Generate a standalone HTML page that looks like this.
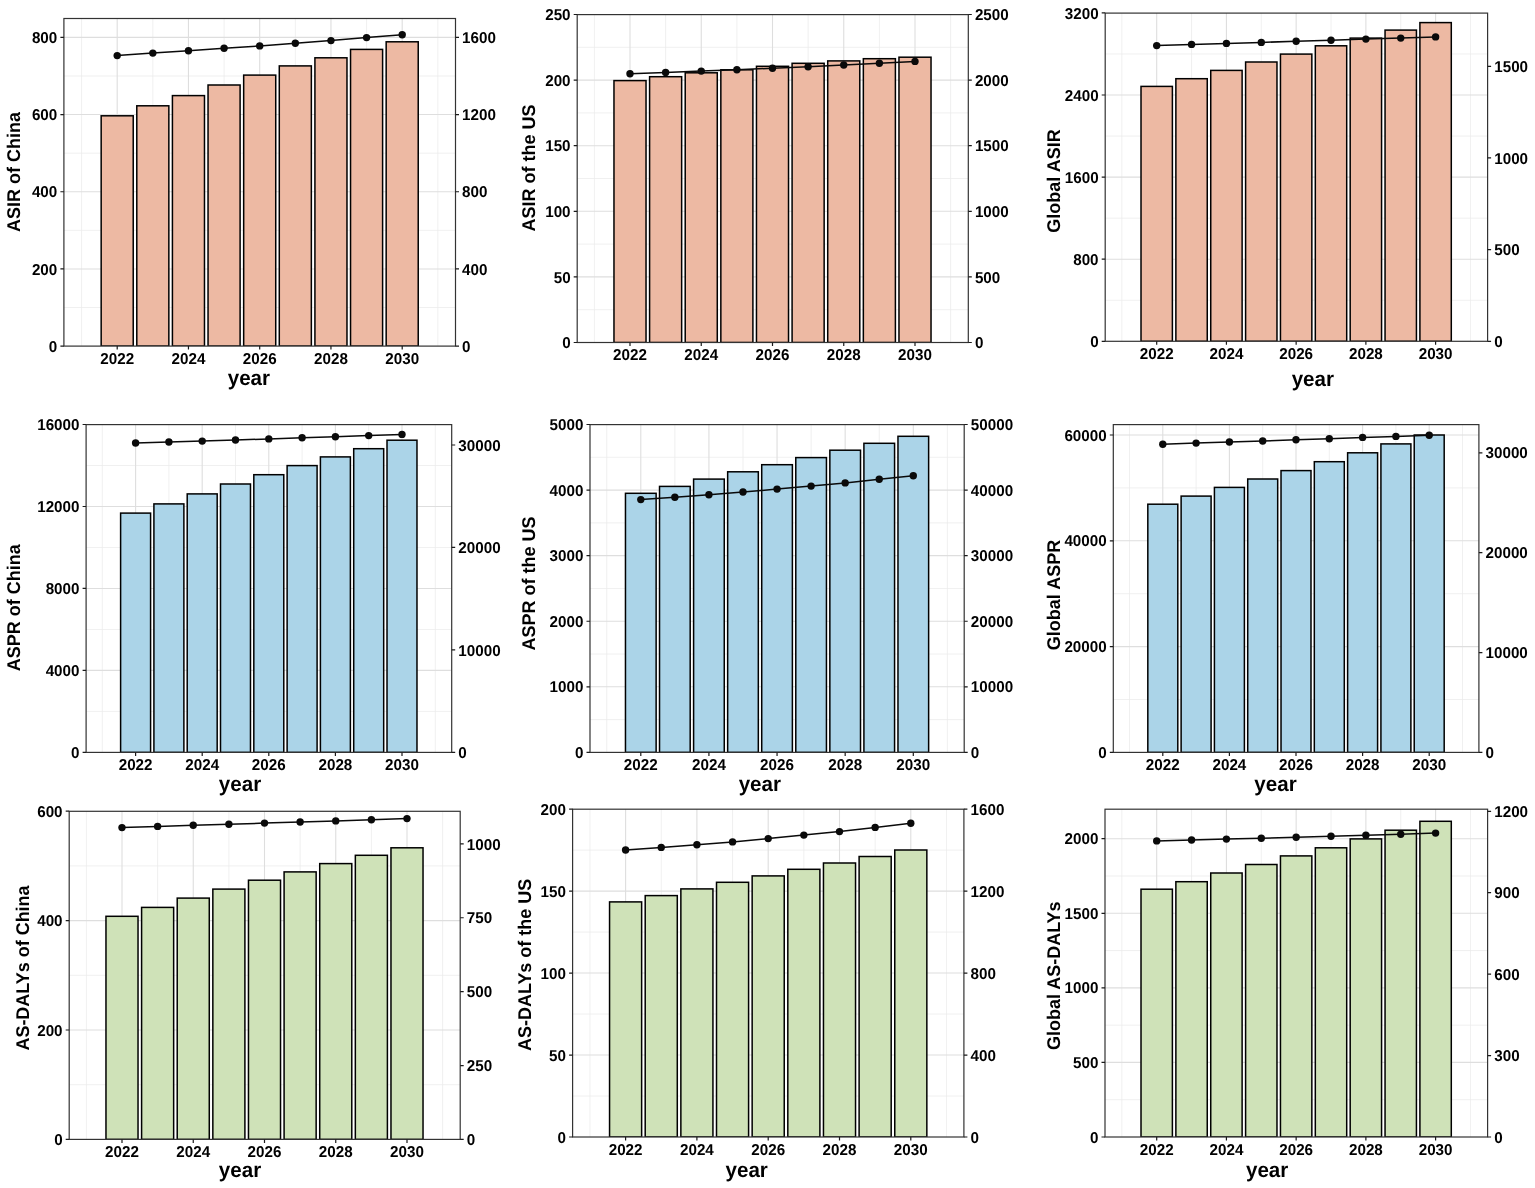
<!DOCTYPE html>
<html lang="en"><head><meta charset="utf-8"><title>ASIR, ASPR and AS-DALYs projections 2022-2030</title>
<style>html,body{margin:0;padding:0;background:#fff;}body{width:1535px;height:1188px;overflow:hidden;}svg{display:block;}text{font-family:"Liberation Sans", sans-serif;font-weight:bold;fill:#000;text-rendering:geometricPrecision;}.tk{font-size:15.7px;}.yl{font-size:18.4px;}.xl{font-size:21.1px;}</style></head><body>
<svg width="1535" height="1188" viewBox="0 0 1535 1188">
<rect width="1535" height="1188" fill="#fff"/>
<g>
<rect x="63.9" y="18.5" width="391.6" height="327.6" fill="#fff"/>
<path d="M81.58 18.5V346.1M152.82 18.5V346.1M224.07 18.5V346.1M295.32 18.5V346.1M366.57 18.5V346.1M437.82 18.5V346.1M63.9 307.51H455.5M63.9 230.34H455.5M63.9 153.16H455.5M63.9 75.99H455.5" stroke="#ebebeb" stroke-width="0.75" fill="none"/>
<path d="M117.2 18.5V346.1M188.45 18.5V346.1M259.7 18.5V346.1M330.95 18.5V346.1M402.2 18.5V346.1M63.9 268.93H455.5M63.9 191.75H455.5M63.9 114.57H455.5M63.9 37.4H455.5" stroke="#dedede" stroke-width="1.1" fill="none"/>
<clipPath id="c8"><rect x="63.9" y="18.5" width="391.6" height="327.6"/></clipPath>
<g clip-path="url(#c8)">
<rect x="101.17" y="115.8" width="32.06" height="230.3" fill="#EDB9A3" stroke="#000" stroke-width="1.5"/>
<rect x="136.79" y="105.8" width="32.06" height="240.3" fill="#EDB9A3" stroke="#000" stroke-width="1.5"/>
<rect x="172.42" y="95.6" width="32.06" height="250.5" fill="#EDB9A3" stroke="#000" stroke-width="1.5"/>
<rect x="208.04" y="85" width="32.06" height="261.1" fill="#EDB9A3" stroke="#000" stroke-width="1.5"/>
<rect x="243.67" y="75.1" width="32.06" height="271" fill="#EDB9A3" stroke="#000" stroke-width="1.5"/>
<rect x="279.29" y="65.9" width="32.06" height="280.2" fill="#EDB9A3" stroke="#000" stroke-width="1.5"/>
<rect x="314.92" y="57.8" width="32.06" height="288.3" fill="#EDB9A3" stroke="#000" stroke-width="1.5"/>
<rect x="350.54" y="49.4" width="32.06" height="296.7" fill="#EDB9A3" stroke="#000" stroke-width="1.5"/>
<rect x="386.17" y="41.8" width="32.06" height="304.3" fill="#EDB9A3" stroke="#000" stroke-width="1.5"/>
<polyline points="117.2,55.6 152.82,53.1 188.45,50.7 224.07,48.3 259.7,45.9 295.32,43.3 330.95,40.6 366.57,37.6 402.2,34.8" fill="none" stroke="#0a0a0a" stroke-width="1.5"/>
<circle cx="117.2" cy="55.6" r="3.7" fill="#0a0a0a"/>
<circle cx="152.82" cy="53.1" r="3.7" fill="#0a0a0a"/>
<circle cx="188.45" cy="50.7" r="3.7" fill="#0a0a0a"/>
<circle cx="224.07" cy="48.3" r="3.7" fill="#0a0a0a"/>
<circle cx="259.7" cy="45.9" r="3.7" fill="#0a0a0a"/>
<circle cx="295.32" cy="43.3" r="3.7" fill="#0a0a0a"/>
<circle cx="330.95" cy="40.6" r="3.7" fill="#0a0a0a"/>
<circle cx="366.57" cy="37.6" r="3.7" fill="#0a0a0a"/>
<circle cx="402.2" cy="34.8" r="3.7" fill="#0a0a0a"/>
</g>
<rect x="63.9" y="18.5" width="391.6" height="327.6" fill="none" stroke="#333" stroke-width="1.2"/>
<path d="M60.4 346.1H63.9M60.4 268.93H63.9M60.4 191.75H63.9M60.4 114.57H63.9M60.4 37.4H63.9M455.5 346.1H459M455.5 268.93H459M455.5 191.75H459M455.5 114.57H459M455.5 37.4H459M117.2 346.1V349.6M188.45 346.1V349.6M259.7 346.1V349.6M330.95 346.1V349.6M402.2 346.1V349.6" stroke="#1a1a1a" stroke-width="1.2" fill="none"/>
<text class="tk" transform="translate(57.3 351.7) scale(0.97 1)" text-anchor="end">0</text>
<text class="tk" transform="translate(57.3 274.53) scale(0.97 1)" text-anchor="end">200</text>
<text class="tk" transform="translate(57.3 197.35) scale(0.97 1)" text-anchor="end">400</text>
<text class="tk" transform="translate(57.3 120.17) scale(0.97 1)" text-anchor="end">600</text>
<text class="tk" transform="translate(57.3 43) scale(0.97 1)" text-anchor="end">800</text>
<text class="tk" transform="translate(462.1 351.7) scale(0.97 1)">0</text>
<text class="tk" transform="translate(462.1 274.53) scale(0.97 1)">400</text>
<text class="tk" transform="translate(462.1 197.35) scale(0.97 1)">800</text>
<text class="tk" transform="translate(462.1 120.17) scale(0.97 1)">1200</text>
<text class="tk" transform="translate(462.1 43) scale(0.97 1)">1600</text>
<text class="tk" transform="translate(117.2 363.9) scale(0.97 1)" text-anchor="middle">2022</text>
<text class="tk" transform="translate(188.45 363.9) scale(0.97 1)" text-anchor="middle">2024</text>
<text class="tk" transform="translate(259.7 363.9) scale(0.97 1)" text-anchor="middle">2026</text>
<text class="tk" transform="translate(330.95 363.9) scale(0.97 1)" text-anchor="middle">2028</text>
<text class="tk" transform="translate(402.2 363.9) scale(0.97 1)" text-anchor="middle">2030</text>
<text class="xl" transform="translate(248.9 385.4) scale(0.975 1)" text-anchor="middle">year</text>
<text class="yl" text-anchor="middle" transform="translate(19.7 172) rotate(-90) scale(0.978 1)">ASIR of China</text>
</g>
<g>
<rect x="577.2" y="14.6" width="391.1" height="327.9" fill="#fff"/>
<path d="M594.38 14.6V342.5M665.62 14.6V342.5M736.88 14.6V342.5M808.12 14.6V342.5M879.38 14.6V342.5M950.62 14.6V342.5M577.2 309.7H968.3M577.2 244.1H968.3M577.2 178.5H968.3M577.2 112.9H968.3M577.2 47.3H968.3" stroke="#ebebeb" stroke-width="0.75" fill="none"/>
<path d="M630 14.6V342.5M701.25 14.6V342.5M772.5 14.6V342.5M843.75 14.6V342.5M915 14.6V342.5M577.2 276.9H968.3M577.2 211.3H968.3M577.2 145.7H968.3M577.2 80.1H968.3" stroke="#dedede" stroke-width="1.1" fill="none"/>
<clipPath id="c54"><rect x="577.2" y="14.6" width="391.1" height="327.9"/></clipPath>
<g clip-path="url(#c54)">
<rect x="613.97" y="80.6" width="32.06" height="261.9" fill="#EDB9A3" stroke="#000" stroke-width="1.5"/>
<rect x="649.59" y="76.7" width="32.06" height="265.8" fill="#EDB9A3" stroke="#000" stroke-width="1.5"/>
<rect x="685.22" y="72.8" width="32.06" height="269.7" fill="#EDB9A3" stroke="#000" stroke-width="1.5"/>
<rect x="720.84" y="69.8" width="32.06" height="272.7" fill="#EDB9A3" stroke="#000" stroke-width="1.5"/>
<rect x="756.47" y="66.3" width="32.06" height="276.2" fill="#EDB9A3" stroke="#000" stroke-width="1.5"/>
<rect x="792.09" y="63.3" width="32.06" height="279.2" fill="#EDB9A3" stroke="#000" stroke-width="1.5"/>
<rect x="827.72" y="60.9" width="32.06" height="281.6" fill="#EDB9A3" stroke="#000" stroke-width="1.5"/>
<rect x="863.34" y="58.7" width="32.06" height="283.8" fill="#EDB9A3" stroke="#000" stroke-width="1.5"/>
<rect x="898.97" y="57.2" width="32.06" height="285.3" fill="#EDB9A3" stroke="#000" stroke-width="1.5"/>
<polyline points="630,73.7 665.62,72.4 701.25,71.1 736.88,69.8 772.5,68.2 808.12,66.7 843.75,65 879.38,63.3 915,61.4" fill="none" stroke="#0a0a0a" stroke-width="1.5"/>
<circle cx="630" cy="73.7" r="3.7" fill="#0a0a0a"/>
<circle cx="665.62" cy="72.4" r="3.7" fill="#0a0a0a"/>
<circle cx="701.25" cy="71.1" r="3.7" fill="#0a0a0a"/>
<circle cx="736.88" cy="69.8" r="3.7" fill="#0a0a0a"/>
<circle cx="772.5" cy="68.2" r="3.7" fill="#0a0a0a"/>
<circle cx="808.12" cy="66.7" r="3.7" fill="#0a0a0a"/>
<circle cx="843.75" cy="65" r="3.7" fill="#0a0a0a"/>
<circle cx="879.38" cy="63.3" r="3.7" fill="#0a0a0a"/>
<circle cx="915" cy="61.4" r="3.7" fill="#0a0a0a"/>
</g>
<rect x="577.2" y="14.6" width="391.1" height="327.9" fill="none" stroke="#333" stroke-width="1.2"/>
<path d="M573.7 342.5H577.2M573.7 276.9H577.2M573.7 211.3H577.2M573.7 145.7H577.2M573.7 80.1H577.2M573.7 14.5H577.2M968.3 342.5H971.8M968.3 276.9H971.8M968.3 211.3H971.8M968.3 145.7H971.8M968.3 80.1H971.8M968.3 14.5H971.8M630 342.5V346M701.25 342.5V346M772.5 342.5V346M843.75 342.5V346M915 342.5V346" stroke="#1a1a1a" stroke-width="1.2" fill="none"/>
<text class="tk" transform="translate(570.6 348.1) scale(0.97 1)" text-anchor="end">0</text>
<text class="tk" transform="translate(570.6 282.5) scale(0.97 1)" text-anchor="end">50</text>
<text class="tk" transform="translate(570.6 216.9) scale(0.97 1)" text-anchor="end">100</text>
<text class="tk" transform="translate(570.6 151.3) scale(0.97 1)" text-anchor="end">150</text>
<text class="tk" transform="translate(570.6 85.7) scale(0.97 1)" text-anchor="end">200</text>
<text class="tk" transform="translate(570.6 20.1) scale(0.97 1)" text-anchor="end">250</text>
<text class="tk" transform="translate(974.9 348.1) scale(0.97 1)">0</text>
<text class="tk" transform="translate(974.9 282.5) scale(0.97 1)">500</text>
<text class="tk" transform="translate(974.9 216.9) scale(0.97 1)">1000</text>
<text class="tk" transform="translate(974.9 151.3) scale(0.97 1)">1500</text>
<text class="tk" transform="translate(974.9 85.7) scale(0.97 1)">2000</text>
<text class="tk" transform="translate(974.9 20.1) scale(0.97 1)">2500</text>
<text class="tk" transform="translate(630 360.3) scale(0.97 1)" text-anchor="middle">2022</text>
<text class="tk" transform="translate(701.25 360.3) scale(0.97 1)" text-anchor="middle">2024</text>
<text class="tk" transform="translate(772.5 360.3) scale(0.97 1)" text-anchor="middle">2026</text>
<text class="tk" transform="translate(843.75 360.3) scale(0.97 1)" text-anchor="middle">2028</text>
<text class="tk" transform="translate(915 360.3) scale(0.97 1)" text-anchor="middle">2030</text>
<text class="yl" text-anchor="middle" transform="translate(534.7 168) rotate(-90) scale(0.978 1)">ASIR of the US</text>
</g>
<g>
<rect x="1105.2" y="13.1" width="382.4" height="328.2" fill="#fff"/>
<path d="M1121.84 13.1V341.3M1191.56 13.1V341.3M1261.29 13.1V341.3M1331.01 13.1V341.3M1400.74 13.1V341.3M1470.46 13.1V341.3M1105.2 300.25H1487.6M1105.2 218.15H1487.6M1105.2 136.05H1487.6M1105.2 53.95H1487.6" stroke="#ebebeb" stroke-width="0.75" fill="none"/>
<path d="M1156.7 13.1V341.3M1226.42 13.1V341.3M1296.15 13.1V341.3M1365.88 13.1V341.3M1435.6 13.1V341.3M1105.2 259.2H1487.6M1105.2 177.1H1487.6M1105.2 95H1487.6" stroke="#dedede" stroke-width="1.1" fill="none"/>
<clipPath id="c101"><rect x="1105.2" y="13.1" width="382.4" height="328.2"/></clipPath>
<g clip-path="url(#c101)">
<rect x="1141.01" y="86.4" width="31.38" height="254.9" fill="#EDB9A3" stroke="#000" stroke-width="1.5"/>
<rect x="1175.87" y="78.7" width="31.38" height="262.6" fill="#EDB9A3" stroke="#000" stroke-width="1.5"/>
<rect x="1210.74" y="70.4" width="31.38" height="270.9" fill="#EDB9A3" stroke="#000" stroke-width="1.5"/>
<rect x="1245.6" y="62" width="31.38" height="279.3" fill="#EDB9A3" stroke="#000" stroke-width="1.5"/>
<rect x="1280.46" y="54.1" width="31.38" height="287.2" fill="#EDB9A3" stroke="#000" stroke-width="1.5"/>
<rect x="1315.32" y="45.8" width="31.38" height="295.5" fill="#EDB9A3" stroke="#000" stroke-width="1.5"/>
<rect x="1350.19" y="38.1" width="31.38" height="303.2" fill="#EDB9A3" stroke="#000" stroke-width="1.5"/>
<rect x="1385.05" y="30.1" width="31.38" height="311.2" fill="#EDB9A3" stroke="#000" stroke-width="1.5"/>
<rect x="1419.91" y="22.6" width="31.38" height="318.7" fill="#EDB9A3" stroke="#000" stroke-width="1.5"/>
<polyline points="1156.7,45.6 1191.56,44.4 1226.42,43.4 1261.29,42.4 1296.15,41.3 1331.01,40.2 1365.88,39.1 1400.74,38.1 1435.6,36.9" fill="none" stroke="#0a0a0a" stroke-width="1.5"/>
<circle cx="1156.7" cy="45.6" r="3.7" fill="#0a0a0a"/>
<circle cx="1191.56" cy="44.4" r="3.7" fill="#0a0a0a"/>
<circle cx="1226.42" cy="43.4" r="3.7" fill="#0a0a0a"/>
<circle cx="1261.29" cy="42.4" r="3.7" fill="#0a0a0a"/>
<circle cx="1296.15" cy="41.3" r="3.7" fill="#0a0a0a"/>
<circle cx="1331.01" cy="40.2" r="3.7" fill="#0a0a0a"/>
<circle cx="1365.88" cy="39.1" r="3.7" fill="#0a0a0a"/>
<circle cx="1400.74" cy="38.1" r="3.7" fill="#0a0a0a"/>
<circle cx="1435.6" cy="36.9" r="3.7" fill="#0a0a0a"/>
</g>
<rect x="1105.2" y="13.1" width="382.4" height="328.2" fill="none" stroke="#333" stroke-width="1.2"/>
<path d="M1101.7 341.3H1105.2M1101.7 259.2H1105.2M1101.7 177.1H1105.2M1101.7 95H1105.2M1101.7 12.9H1105.2M1487.6 341.3H1491.1M1487.6 249.63H1491.1M1487.6 157.97H1491.1M1487.6 66.3H1491.1M1156.7 341.3V344.8M1226.42 341.3V344.8M1296.15 341.3V344.8M1365.88 341.3V344.8M1435.6 341.3V344.8" stroke="#1a1a1a" stroke-width="1.2" fill="none"/>
<text class="tk" transform="translate(1098.6 346.9) scale(0.97 1)" text-anchor="end">0</text>
<text class="tk" transform="translate(1098.6 264.8) scale(0.97 1)" text-anchor="end">800</text>
<text class="tk" transform="translate(1098.6 182.7) scale(0.97 1)" text-anchor="end">1600</text>
<text class="tk" transform="translate(1098.6 100.6) scale(0.97 1)" text-anchor="end">2400</text>
<text class="tk" transform="translate(1098.6 18.5) scale(0.97 1)" text-anchor="end">3200</text>
<text class="tk" transform="translate(1494.2 346.9) scale(0.97 1)">0</text>
<text class="tk" transform="translate(1494.2 255.23) scale(0.97 1)">500</text>
<text class="tk" transform="translate(1494.2 163.57) scale(0.97 1)">1000</text>
<text class="tk" transform="translate(1494.2 71.9) scale(0.97 1)">1500</text>
<text class="tk" transform="translate(1156.7 359.1) scale(0.97 1)" text-anchor="middle">2022</text>
<text class="tk" transform="translate(1226.42 359.1) scale(0.97 1)" text-anchor="middle">2024</text>
<text class="tk" transform="translate(1296.15 359.1) scale(0.97 1)" text-anchor="middle">2026</text>
<text class="tk" transform="translate(1365.88 359.1) scale(0.97 1)" text-anchor="middle">2028</text>
<text class="tk" transform="translate(1435.6 359.1) scale(0.97 1)" text-anchor="middle">2030</text>
<text class="xl" transform="translate(1312.8 385.8) scale(0.975 1)" text-anchor="middle">year</text>
<text class="yl" text-anchor="middle" transform="translate(1059.7 181) rotate(-90) scale(0.978 1)">Global ASIR</text>
</g>
<g>
<rect x="86.1" y="424.6" width="365.6" height="327.8" fill="#fff"/>
<path d="M102.3 424.6V752.4M168.9 424.6V752.4M235.5 424.6V752.4M302.1 424.6V752.4M368.7 424.6V752.4M435.3 424.6V752.4M86.1 711.41H451.7M86.1 629.44H451.7M86.1 547.46H451.7M86.1 465.49H451.7" stroke="#ebebeb" stroke-width="0.75" fill="none"/>
<path d="M135.6 424.6V752.4M202.2 424.6V752.4M268.8 424.6V752.4M335.4 424.6V752.4M402 424.6V752.4M86.1 670.42H451.7M86.1 588.45H451.7M86.1 506.48H451.7" stroke="#dedede" stroke-width="1.1" fill="none"/>
<clipPath id="c146"><rect x="86.1" y="424.6" width="365.6" height="327.8"/></clipPath>
<g clip-path="url(#c146)">
<rect x="120.61" y="513.1" width="29.97" height="239.3" fill="#ABD4E8" stroke="#000" stroke-width="1.5"/>
<rect x="153.91" y="503.9" width="29.97" height="248.5" fill="#ABD4E8" stroke="#000" stroke-width="1.5"/>
<rect x="187.21" y="493.9" width="29.97" height="258.5" fill="#ABD4E8" stroke="#000" stroke-width="1.5"/>
<rect x="220.51" y="484" width="29.97" height="268.4" fill="#ABD4E8" stroke="#000" stroke-width="1.5"/>
<rect x="253.81" y="474.7" width="29.97" height="277.7" fill="#ABD4E8" stroke="#000" stroke-width="1.5"/>
<rect x="287.12" y="465.6" width="29.97" height="286.8" fill="#ABD4E8" stroke="#000" stroke-width="1.5"/>
<rect x="320.41" y="456.9" width="29.97" height="295.5" fill="#ABD4E8" stroke="#000" stroke-width="1.5"/>
<rect x="353.71" y="448.7" width="29.97" height="303.7" fill="#ABD4E8" stroke="#000" stroke-width="1.5"/>
<rect x="387.01" y="440.2" width="29.97" height="312.2" fill="#ABD4E8" stroke="#000" stroke-width="1.5"/>
<polyline points="135.6,443 168.9,442 202.2,441.1 235.5,440 268.8,438.9 302.1,437.8 335.4,436.7 368.7,435.6 402,434.4" fill="none" stroke="#0a0a0a" stroke-width="1.5"/>
<circle cx="135.6" cy="443" r="3.7" fill="#0a0a0a"/>
<circle cx="168.9" cy="442" r="3.7" fill="#0a0a0a"/>
<circle cx="202.2" cy="441.1" r="3.7" fill="#0a0a0a"/>
<circle cx="235.5" cy="440" r="3.7" fill="#0a0a0a"/>
<circle cx="268.8" cy="438.9" r="3.7" fill="#0a0a0a"/>
<circle cx="302.1" cy="437.8" r="3.7" fill="#0a0a0a"/>
<circle cx="335.4" cy="436.7" r="3.7" fill="#0a0a0a"/>
<circle cx="368.7" cy="435.6" r="3.7" fill="#0a0a0a"/>
<circle cx="402" cy="434.4" r="3.7" fill="#0a0a0a"/>
</g>
<rect x="86.1" y="424.6" width="365.6" height="327.8" fill="none" stroke="#333" stroke-width="1.2"/>
<path d="M82.6 752.4H86.1M82.6 670.42H86.1M82.6 588.45H86.1M82.6 506.48H86.1M82.6 424.5H86.1M451.7 752.4H455.2M451.7 649.93H455.2M451.7 547.47H455.2M451.7 445H455.2M135.6 752.4V755.9M202.2 752.4V755.9M268.8 752.4V755.9M335.4 752.4V755.9M402 752.4V755.9" stroke="#1a1a1a" stroke-width="1.2" fill="none"/>
<text class="tk" transform="translate(79.5 758) scale(0.97 1)" text-anchor="end">0</text>
<text class="tk" transform="translate(79.5 676.02) scale(0.97 1)" text-anchor="end">4000</text>
<text class="tk" transform="translate(79.5 594.05) scale(0.97 1)" text-anchor="end">8000</text>
<text class="tk" transform="translate(79.5 512.08) scale(0.97 1)" text-anchor="end">12000</text>
<text class="tk" transform="translate(79.5 430.1) scale(0.97 1)" text-anchor="end">16000</text>
<text class="tk" transform="translate(458.3 758) scale(0.97 1)">0</text>
<text class="tk" transform="translate(458.3 655.53) scale(0.97 1)">10000</text>
<text class="tk" transform="translate(458.3 553.07) scale(0.97 1)">20000</text>
<text class="tk" transform="translate(458.3 450.6) scale(0.97 1)">30000</text>
<text class="tk" transform="translate(135.6 770.2) scale(0.97 1)" text-anchor="middle">2022</text>
<text class="tk" transform="translate(202.2 770.2) scale(0.97 1)" text-anchor="middle">2024</text>
<text class="tk" transform="translate(268.8 770.2) scale(0.97 1)" text-anchor="middle">2026</text>
<text class="tk" transform="translate(335.4 770.2) scale(0.97 1)" text-anchor="middle">2028</text>
<text class="tk" transform="translate(402 770.2) scale(0.97 1)" text-anchor="middle">2030</text>
<text class="xl" transform="translate(240 790.8) scale(0.975 1)" text-anchor="middle">year</text>
<text class="yl" text-anchor="middle" transform="translate(19.7 607.7) rotate(-90) scale(0.978 1)">ASPR of China</text>
</g>
<g>
<rect x="590" y="424.6" width="374.2" height="327.8" fill="#fff"/>
<path d="M606.74 424.6V752.4M674.86 424.6V752.4M742.99 424.6V752.4M811.11 424.6V752.4M879.24 424.6V752.4M947.36 424.6V752.4M590 719.61H964.2M590 654.03H964.2M590 588.45H964.2M590 522.87H964.2M590 457.29H964.2" stroke="#ebebeb" stroke-width="0.75" fill="none"/>
<path d="M640.8 424.6V752.4M708.92 424.6V752.4M777.05 424.6V752.4M845.17 424.6V752.4M913.3 424.6V752.4M590 686.82H964.2M590 621.24H964.2M590 555.66H964.2M590 490.08H964.2" stroke="#dedede" stroke-width="1.1" fill="none"/>
<clipPath id="c191"><rect x="590" y="424.6" width="374.2" height="327.8"/></clipPath>
<g clip-path="url(#c191)">
<rect x="625.47" y="493.3" width="30.66" height="259.1" fill="#ABD4E8" stroke="#000" stroke-width="1.5"/>
<rect x="659.53" y="486.4" width="30.66" height="266" fill="#ABD4E8" stroke="#000" stroke-width="1.5"/>
<rect x="693.6" y="479.1" width="30.66" height="273.3" fill="#ABD4E8" stroke="#000" stroke-width="1.5"/>
<rect x="727.66" y="471.8" width="30.66" height="280.6" fill="#ABD4E8" stroke="#000" stroke-width="1.5"/>
<rect x="761.72" y="464.7" width="30.66" height="287.7" fill="#ABD4E8" stroke="#000" stroke-width="1.5"/>
<rect x="795.78" y="457.6" width="30.66" height="294.8" fill="#ABD4E8" stroke="#000" stroke-width="1.5"/>
<rect x="829.85" y="450.2" width="30.66" height="302.2" fill="#ABD4E8" stroke="#000" stroke-width="1.5"/>
<rect x="863.91" y="443.3" width="30.66" height="309.1" fill="#ABD4E8" stroke="#000" stroke-width="1.5"/>
<rect x="897.97" y="436.3" width="30.66" height="316.1" fill="#ABD4E8" stroke="#000" stroke-width="1.5"/>
<polyline points="640.8,499.6 674.86,497.2 708.92,494.7 742.99,492 777.05,489.1 811.11,486.1 845.17,482.9 879.24,479.3 913.3,475.8" fill="none" stroke="#0a0a0a" stroke-width="1.5"/>
<circle cx="640.8" cy="499.6" r="3.7" fill="#0a0a0a"/>
<circle cx="674.86" cy="497.2" r="3.7" fill="#0a0a0a"/>
<circle cx="708.92" cy="494.7" r="3.7" fill="#0a0a0a"/>
<circle cx="742.99" cy="492" r="3.7" fill="#0a0a0a"/>
<circle cx="777.05" cy="489.1" r="3.7" fill="#0a0a0a"/>
<circle cx="811.11" cy="486.1" r="3.7" fill="#0a0a0a"/>
<circle cx="845.17" cy="482.9" r="3.7" fill="#0a0a0a"/>
<circle cx="879.24" cy="479.3" r="3.7" fill="#0a0a0a"/>
<circle cx="913.3" cy="475.8" r="3.7" fill="#0a0a0a"/>
</g>
<rect x="590" y="424.6" width="374.2" height="327.8" fill="none" stroke="#333" stroke-width="1.2"/>
<path d="M586.5 752.4H590M586.5 686.82H590M586.5 621.24H590M586.5 555.66H590M586.5 490.08H590M586.5 424.5H590M964.2 752.4H967.7M964.2 686.82H967.7M964.2 621.24H967.7M964.2 555.66H967.7M964.2 490.08H967.7M964.2 424.5H967.7M640.8 752.4V755.9M708.92 752.4V755.9M777.05 752.4V755.9M845.17 752.4V755.9M913.3 752.4V755.9" stroke="#1a1a1a" stroke-width="1.2" fill="none"/>
<text class="tk" transform="translate(583.4 758) scale(0.97 1)" text-anchor="end">0</text>
<text class="tk" transform="translate(583.4 692.42) scale(0.97 1)" text-anchor="end">1000</text>
<text class="tk" transform="translate(583.4 626.84) scale(0.97 1)" text-anchor="end">2000</text>
<text class="tk" transform="translate(583.4 561.26) scale(0.97 1)" text-anchor="end">3000</text>
<text class="tk" transform="translate(583.4 495.68) scale(0.97 1)" text-anchor="end">4000</text>
<text class="tk" transform="translate(583.4 430.1) scale(0.97 1)" text-anchor="end">5000</text>
<text class="tk" transform="translate(970.8 758) scale(0.97 1)">0</text>
<text class="tk" transform="translate(970.8 692.42) scale(0.97 1)">10000</text>
<text class="tk" transform="translate(970.8 626.84) scale(0.97 1)">20000</text>
<text class="tk" transform="translate(970.8 561.26) scale(0.97 1)">30000</text>
<text class="tk" transform="translate(970.8 495.68) scale(0.97 1)">40000</text>
<text class="tk" transform="translate(970.8 430.1) scale(0.97 1)">50000</text>
<text class="tk" transform="translate(640.8 770.2) scale(0.97 1)" text-anchor="middle">2022</text>
<text class="tk" transform="translate(708.92 770.2) scale(0.97 1)" text-anchor="middle">2024</text>
<text class="tk" transform="translate(777.05 770.2) scale(0.97 1)" text-anchor="middle">2026</text>
<text class="tk" transform="translate(845.17 770.2) scale(0.97 1)" text-anchor="middle">2028</text>
<text class="tk" transform="translate(913.3 770.2) scale(0.97 1)" text-anchor="middle">2030</text>
<text class="xl" transform="translate(759.8 790.8) scale(0.975 1)" text-anchor="middle">year</text>
<text class="yl" text-anchor="middle" transform="translate(534.7 583.5) rotate(-90) scale(0.978 1)">ASPR of the US</text>
</g>
<g>
<rect x="1113.3" y="424.6" width="365.6" height="327.8" fill="#fff"/>
<path d="M1129.5 424.6V752.4M1196.1 424.6V752.4M1262.7 424.6V752.4M1329.3 424.6V752.4M1395.9 424.6V752.4M1462.5 424.6V752.4M1113.3 699.5H1478.9M1113.3 593.7H1478.9M1113.3 487.9H1478.9" stroke="#ebebeb" stroke-width="0.75" fill="none"/>
<path d="M1162.8 424.6V752.4M1229.4 424.6V752.4M1296 424.6V752.4M1362.6 424.6V752.4M1429.2 424.6V752.4M1113.3 646.6H1478.9M1113.3 540.8H1478.9M1113.3 435H1478.9" stroke="#dedede" stroke-width="1.1" fill="none"/>
<clipPath id="c239"><rect x="1113.3" y="424.6" width="365.6" height="327.8"/></clipPath>
<g clip-path="url(#c239)">
<rect x="1147.82" y="504.2" width="29.97" height="248.2" fill="#ABD4E8" stroke="#000" stroke-width="1.5"/>
<rect x="1181.12" y="496.1" width="29.97" height="256.3" fill="#ABD4E8" stroke="#000" stroke-width="1.5"/>
<rect x="1214.42" y="487.4" width="29.97" height="265" fill="#ABD4E8" stroke="#000" stroke-width="1.5"/>
<rect x="1247.72" y="479" width="29.97" height="273.4" fill="#ABD4E8" stroke="#000" stroke-width="1.5"/>
<rect x="1281.02" y="470.6" width="29.97" height="281.8" fill="#ABD4E8" stroke="#000" stroke-width="1.5"/>
<rect x="1314.32" y="461.7" width="29.97" height="290.7" fill="#ABD4E8" stroke="#000" stroke-width="1.5"/>
<rect x="1347.62" y="452.8" width="29.97" height="299.6" fill="#ABD4E8" stroke="#000" stroke-width="1.5"/>
<rect x="1380.92" y="443.9" width="29.97" height="308.5" fill="#ABD4E8" stroke="#000" stroke-width="1.5"/>
<rect x="1414.22" y="435" width="29.97" height="317.4" fill="#ABD4E8" stroke="#000" stroke-width="1.5"/>
<polyline points="1162.8,444.2 1196.1,443.1 1229.4,442 1262.7,441 1296,439.8 1329.3,438.7 1362.6,437.4 1395.9,436.4 1429.2,435.2" fill="none" stroke="#0a0a0a" stroke-width="1.5"/>
<circle cx="1162.8" cy="444.2" r="3.7" fill="#0a0a0a"/>
<circle cx="1196.1" cy="443.1" r="3.7" fill="#0a0a0a"/>
<circle cx="1229.4" cy="442" r="3.7" fill="#0a0a0a"/>
<circle cx="1262.7" cy="441" r="3.7" fill="#0a0a0a"/>
<circle cx="1296" cy="439.8" r="3.7" fill="#0a0a0a"/>
<circle cx="1329.3" cy="438.7" r="3.7" fill="#0a0a0a"/>
<circle cx="1362.6" cy="437.4" r="3.7" fill="#0a0a0a"/>
<circle cx="1395.9" cy="436.4" r="3.7" fill="#0a0a0a"/>
<circle cx="1429.2" cy="435.2" r="3.7" fill="#0a0a0a"/>
</g>
<rect x="1113.3" y="424.6" width="365.6" height="327.8" fill="none" stroke="#333" stroke-width="1.2"/>
<path d="M1109.8 752.4H1113.3M1109.8 646.6H1113.3M1109.8 540.8H1113.3M1109.8 435H1113.3M1478.9 752.4H1482.4M1478.9 652.53H1482.4M1478.9 552.67H1482.4M1478.9 452.8H1482.4M1162.8 752.4V755.9M1229.4 752.4V755.9M1296 752.4V755.9M1362.6 752.4V755.9M1429.2 752.4V755.9" stroke="#1a1a1a" stroke-width="1.2" fill="none"/>
<text class="tk" transform="translate(1106.7 758) scale(0.97 1)" text-anchor="end">0</text>
<text class="tk" transform="translate(1106.7 652.2) scale(0.97 1)" text-anchor="end">20000</text>
<text class="tk" transform="translate(1106.7 546.4) scale(0.97 1)" text-anchor="end">40000</text>
<text class="tk" transform="translate(1106.7 440.6) scale(0.97 1)" text-anchor="end">60000</text>
<text class="tk" transform="translate(1485.5 758) scale(0.97 1)">0</text>
<text class="tk" transform="translate(1485.5 658.13) scale(0.97 1)">10000</text>
<text class="tk" transform="translate(1485.5 558.27) scale(0.97 1)">20000</text>
<text class="tk" transform="translate(1485.5 458.4) scale(0.97 1)">30000</text>
<text class="tk" transform="translate(1162.8 770.2) scale(0.97 1)" text-anchor="middle">2022</text>
<text class="tk" transform="translate(1229.4 770.2) scale(0.97 1)" text-anchor="middle">2024</text>
<text class="tk" transform="translate(1296 770.2) scale(0.97 1)" text-anchor="middle">2026</text>
<text class="tk" transform="translate(1362.6 770.2) scale(0.97 1)" text-anchor="middle">2028</text>
<text class="tk" transform="translate(1429.2 770.2) scale(0.97 1)" text-anchor="middle">2030</text>
<text class="xl" transform="translate(1275.5 790.8) scale(0.975 1)" text-anchor="middle">year</text>
<text class="yl" text-anchor="middle" transform="translate(1059.7 595) rotate(-90) scale(0.978 1)">Global ASPR</text>
</g>
<g>
<rect x="69.2" y="811.3" width="391" height="328.1" fill="#fff"/>
<path d="M86.38 811.3V1139.4M157.62 811.3V1139.4M228.88 811.3V1139.4M300.12 811.3V1139.4M371.38 811.3V1139.4M442.62 811.3V1139.4M69.2 1084.7H460.2M69.2 975.3H460.2M69.2 865.9H460.2" stroke="#ebebeb" stroke-width="0.75" fill="none"/>
<path d="M122 811.3V1139.4M193.25 811.3V1139.4M264.5 811.3V1139.4M335.75 811.3V1139.4M407 811.3V1139.4M69.2 1030H460.2M69.2 920.6H460.2" stroke="#dedede" stroke-width="1.1" fill="none"/>
<clipPath id="c283"><rect x="69.2" y="811.3" width="391" height="328.1"/></clipPath>
<g clip-path="url(#c283)">
<rect x="105.97" y="916.3" width="32.06" height="223.1" fill="#CFE2B8" stroke="#000" stroke-width="1.5"/>
<rect x="141.59" y="907.4" width="32.06" height="232" fill="#CFE2B8" stroke="#000" stroke-width="1.5"/>
<rect x="177.22" y="898.1" width="32.06" height="241.3" fill="#CFE2B8" stroke="#000" stroke-width="1.5"/>
<rect x="212.84" y="889.1" width="32.06" height="250.3" fill="#CFE2B8" stroke="#000" stroke-width="1.5"/>
<rect x="248.47" y="880.2" width="32.06" height="259.2" fill="#CFE2B8" stroke="#000" stroke-width="1.5"/>
<rect x="284.09" y="871.9" width="32.06" height="267.5" fill="#CFE2B8" stroke="#000" stroke-width="1.5"/>
<rect x="319.72" y="863.6" width="32.06" height="275.8" fill="#CFE2B8" stroke="#000" stroke-width="1.5"/>
<rect x="355.34" y="855.3" width="32.06" height="284.1" fill="#CFE2B8" stroke="#000" stroke-width="1.5"/>
<rect x="390.97" y="847.8" width="32.06" height="291.6" fill="#CFE2B8" stroke="#000" stroke-width="1.5"/>
<polyline points="122,827.6 157.62,826.4 193.25,825.3 228.88,824.3 264.5,823.1 300.12,822 335.75,820.9 371.38,819.8 407,818.6" fill="none" stroke="#0a0a0a" stroke-width="1.5"/>
<circle cx="122" cy="827.6" r="3.7" fill="#0a0a0a"/>
<circle cx="157.62" cy="826.4" r="3.7" fill="#0a0a0a"/>
<circle cx="193.25" cy="825.3" r="3.7" fill="#0a0a0a"/>
<circle cx="228.88" cy="824.3" r="3.7" fill="#0a0a0a"/>
<circle cx="264.5" cy="823.1" r="3.7" fill="#0a0a0a"/>
<circle cx="300.12" cy="822" r="3.7" fill="#0a0a0a"/>
<circle cx="335.75" cy="820.9" r="3.7" fill="#0a0a0a"/>
<circle cx="371.38" cy="819.8" r="3.7" fill="#0a0a0a"/>
<circle cx="407" cy="818.6" r="3.7" fill="#0a0a0a"/>
</g>
<rect x="69.2" y="811.3" width="391" height="328.1" fill="none" stroke="#333" stroke-width="1.2"/>
<path d="M65.7 1139.4H69.2M65.7 1030H69.2M65.7 920.6H69.2M65.7 811.2H69.2M460.2 1139.4H463.7M460.2 1065.53H463.7M460.2 991.65H463.7M460.2 917.77H463.7M460.2 843.9H463.7M122 1139.4V1142.9M193.25 1139.4V1142.9M264.5 1139.4V1142.9M335.75 1139.4V1142.9M407 1139.4V1142.9" stroke="#1a1a1a" stroke-width="1.2" fill="none"/>
<text class="tk" transform="translate(62.6 1145) scale(0.97 1)" text-anchor="end">0</text>
<text class="tk" transform="translate(62.6 1035.6) scale(0.97 1)" text-anchor="end">200</text>
<text class="tk" transform="translate(62.6 926.2) scale(0.97 1)" text-anchor="end">400</text>
<text class="tk" transform="translate(62.6 816.8) scale(0.97 1)" text-anchor="end">600</text>
<text class="tk" transform="translate(466.8 1145) scale(0.97 1)">0</text>
<text class="tk" transform="translate(466.8 1071.12) scale(0.97 1)">250</text>
<text class="tk" transform="translate(466.8 997.25) scale(0.97 1)">500</text>
<text class="tk" transform="translate(466.8 923.38) scale(0.97 1)">750</text>
<text class="tk" transform="translate(466.8 849.5) scale(0.97 1)">1000</text>
<text class="tk" transform="translate(122 1157.2) scale(0.97 1)" text-anchor="middle">2022</text>
<text class="tk" transform="translate(193.25 1157.2) scale(0.97 1)" text-anchor="middle">2024</text>
<text class="tk" transform="translate(264.5 1157.2) scale(0.97 1)" text-anchor="middle">2026</text>
<text class="tk" transform="translate(335.75 1157.2) scale(0.97 1)" text-anchor="middle">2028</text>
<text class="tk" transform="translate(407 1157.2) scale(0.97 1)" text-anchor="middle">2030</text>
<text class="xl" transform="translate(240 1176.8) scale(0.975 1)" text-anchor="middle">year</text>
<text class="yl" text-anchor="middle" transform="translate(28.7 968) rotate(-90) scale(0.978 1)">AS-DALYs of China</text>
</g>
<g>
<rect x="572.6" y="809.2" width="391.3" height="327.8" fill="#fff"/>
<path d="M589.95 809.2V1137M661.25 809.2V1137M732.55 809.2V1137M803.85 809.2V1137M875.15 809.2V1137M946.45 809.2V1137M572.6 1096.01H963.9M572.6 1014.04H963.9M572.6 932.06H963.9M572.6 850.09H963.9" stroke="#ebebeb" stroke-width="0.75" fill="none"/>
<path d="M625.6 809.2V1137M696.9 809.2V1137M768.2 809.2V1137M839.5 809.2V1137M910.8 809.2V1137M572.6 1055.03H963.9M572.6 973.05H963.9M572.6 891.08H963.9" stroke="#dedede" stroke-width="1.1" fill="none"/>
<clipPath id="c328"><rect x="572.6" y="809.2" width="391.3" height="327.8"/></clipPath>
<g clip-path="url(#c328)">
<rect x="609.56" y="901.9" width="32.08" height="235.1" fill="#CFE2B8" stroke="#000" stroke-width="1.5"/>
<rect x="645.21" y="895.6" width="32.08" height="241.4" fill="#CFE2B8" stroke="#000" stroke-width="1.5"/>
<rect x="680.86" y="888.9" width="32.08" height="248.1" fill="#CFE2B8" stroke="#000" stroke-width="1.5"/>
<rect x="716.51" y="882.3" width="32.08" height="254.7" fill="#CFE2B8" stroke="#000" stroke-width="1.5"/>
<rect x="752.16" y="875.9" width="32.08" height="261.1" fill="#CFE2B8" stroke="#000" stroke-width="1.5"/>
<rect x="787.81" y="869.3" width="32.08" height="267.7" fill="#CFE2B8" stroke="#000" stroke-width="1.5"/>
<rect x="823.46" y="863" width="32.08" height="274" fill="#CFE2B8" stroke="#000" stroke-width="1.5"/>
<rect x="859.11" y="856.5" width="32.08" height="280.5" fill="#CFE2B8" stroke="#000" stroke-width="1.5"/>
<rect x="894.76" y="850" width="32.08" height="287" fill="#CFE2B8" stroke="#000" stroke-width="1.5"/>
<polyline points="625.6,850 661.25,847.4 696.9,844.8 732.55,841.9 768.2,838.6 803.85,835.1 839.5,831.6 875.15,827.4 910.8,823.3" fill="none" stroke="#0a0a0a" stroke-width="1.5"/>
<circle cx="625.6" cy="850" r="3.7" fill="#0a0a0a"/>
<circle cx="661.25" cy="847.4" r="3.7" fill="#0a0a0a"/>
<circle cx="696.9" cy="844.8" r="3.7" fill="#0a0a0a"/>
<circle cx="732.55" cy="841.9" r="3.7" fill="#0a0a0a"/>
<circle cx="768.2" cy="838.6" r="3.7" fill="#0a0a0a"/>
<circle cx="803.85" cy="835.1" r="3.7" fill="#0a0a0a"/>
<circle cx="839.5" cy="831.6" r="3.7" fill="#0a0a0a"/>
<circle cx="875.15" cy="827.4" r="3.7" fill="#0a0a0a"/>
<circle cx="910.8" cy="823.3" r="3.7" fill="#0a0a0a"/>
</g>
<rect x="572.6" y="809.2" width="391.3" height="327.8" fill="none" stroke="#333" stroke-width="1.2"/>
<path d="M569.1 1137H572.6M569.1 1055.03H572.6M569.1 973.05H572.6M569.1 891.08H572.6M569.1 809.1H572.6M963.9 1137H967.4M963.9 1055.03H967.4M963.9 973.05H967.4M963.9 891.08H967.4M963.9 809.1H967.4M625.6 1137V1140.5M696.9 1137V1140.5M768.2 1137V1140.5M839.5 1137V1140.5M910.8 1137V1140.5" stroke="#1a1a1a" stroke-width="1.2" fill="none"/>
<text class="tk" transform="translate(566 1142.6) scale(0.97 1)" text-anchor="end">0</text>
<text class="tk" transform="translate(566 1060.62) scale(0.97 1)" text-anchor="end">50</text>
<text class="tk" transform="translate(566 978.65) scale(0.97 1)" text-anchor="end">100</text>
<text class="tk" transform="translate(566 896.68) scale(0.97 1)" text-anchor="end">150</text>
<text class="tk" transform="translate(566 814.7) scale(0.97 1)" text-anchor="end">200</text>
<text class="tk" transform="translate(970.5 1142.6) scale(0.97 1)">0</text>
<text class="tk" transform="translate(970.5 1060.62) scale(0.97 1)">400</text>
<text class="tk" transform="translate(970.5 978.65) scale(0.97 1)">800</text>
<text class="tk" transform="translate(970.5 896.68) scale(0.97 1)">1200</text>
<text class="tk" transform="translate(970.5 814.7) scale(0.97 1)">1600</text>
<text class="tk" transform="translate(625.6 1154.8) scale(0.97 1)" text-anchor="middle">2022</text>
<text class="tk" transform="translate(696.9 1154.8) scale(0.97 1)" text-anchor="middle">2024</text>
<text class="tk" transform="translate(768.2 1154.8) scale(0.97 1)" text-anchor="middle">2026</text>
<text class="tk" transform="translate(839.5 1154.8) scale(0.97 1)" text-anchor="middle">2028</text>
<text class="tk" transform="translate(910.8 1154.8) scale(0.97 1)" text-anchor="middle">2030</text>
<text class="xl" transform="translate(746.7 1176.8) scale(0.975 1)" text-anchor="middle">year</text>
<text class="yl" text-anchor="middle" transform="translate(530.7 964.8) rotate(-90) scale(0.978 1)">AS-DALYs of the US</text>
</g>
<g>
<rect x="1105" y="809.2" width="382.6" height="327.8" fill="#fff"/>
<path d="M1121.84 809.2V1137M1191.56 809.2V1137M1261.29 809.2V1137M1331.01 809.2V1137M1400.74 809.2V1137M1470.46 809.2V1137M1105 1099.71H1487.6M1105 1025.14H1487.6M1105 950.56H1487.6M1105 875.99H1487.6" stroke="#ebebeb" stroke-width="0.75" fill="none"/>
<path d="M1156.7 809.2V1137M1226.42 809.2V1137M1296.15 809.2V1137M1365.88 809.2V1137M1435.6 809.2V1137M1105 1062.42H1487.6M1105 987.85H1487.6M1105 913.28H1487.6M1105 838.7H1487.6" stroke="#dedede" stroke-width="1.1" fill="none"/>
<clipPath id="c374"><rect x="1105" y="809.2" width="382.6" height="327.8"/></clipPath>
<g clip-path="url(#c374)">
<rect x="1141.01" y="889.2" width="31.38" height="247.8" fill="#CFE2B8" stroke="#000" stroke-width="1.5"/>
<rect x="1175.87" y="881.7" width="31.38" height="255.3" fill="#CFE2B8" stroke="#000" stroke-width="1.5"/>
<rect x="1210.74" y="873" width="31.38" height="264" fill="#CFE2B8" stroke="#000" stroke-width="1.5"/>
<rect x="1245.6" y="864.5" width="31.38" height="272.5" fill="#CFE2B8" stroke="#000" stroke-width="1.5"/>
<rect x="1280.46" y="855.9" width="31.38" height="281.1" fill="#CFE2B8" stroke="#000" stroke-width="1.5"/>
<rect x="1315.32" y="847.8" width="31.38" height="289.2" fill="#CFE2B8" stroke="#000" stroke-width="1.5"/>
<rect x="1350.19" y="838.9" width="31.38" height="298.1" fill="#CFE2B8" stroke="#000" stroke-width="1.5"/>
<rect x="1385.05" y="830.2" width="31.38" height="306.8" fill="#CFE2B8" stroke="#000" stroke-width="1.5"/>
<rect x="1419.91" y="821.3" width="31.38" height="315.7" fill="#CFE2B8" stroke="#000" stroke-width="1.5"/>
<polyline points="1156.7,840.9 1191.56,840 1226.42,839.1 1261.29,838.2 1296.15,837.2 1331.01,836.3 1365.88,835.3 1400.74,834.2 1435.6,833.1" fill="none" stroke="#0a0a0a" stroke-width="1.5"/>
<circle cx="1156.7" cy="840.9" r="3.7" fill="#0a0a0a"/>
<circle cx="1191.56" cy="840" r="3.7" fill="#0a0a0a"/>
<circle cx="1226.42" cy="839.1" r="3.7" fill="#0a0a0a"/>
<circle cx="1261.29" cy="838.2" r="3.7" fill="#0a0a0a"/>
<circle cx="1296.15" cy="837.2" r="3.7" fill="#0a0a0a"/>
<circle cx="1331.01" cy="836.3" r="3.7" fill="#0a0a0a"/>
<circle cx="1365.88" cy="835.3" r="3.7" fill="#0a0a0a"/>
<circle cx="1400.74" cy="834.2" r="3.7" fill="#0a0a0a"/>
<circle cx="1435.6" cy="833.1" r="3.7" fill="#0a0a0a"/>
</g>
<rect x="1105" y="809.2" width="382.6" height="327.8" fill="none" stroke="#333" stroke-width="1.2"/>
<path d="M1101.5 1137H1105M1101.5 1062.42H1105M1101.5 987.85H1105M1101.5 913.28H1105M1101.5 838.7H1105M1487.6 1137H1491.1M1487.6 1055.58H1491.1M1487.6 974.15H1491.1M1487.6 892.72H1491.1M1487.6 811.3H1491.1M1156.7 1137V1140.5M1226.42 1137V1140.5M1296.15 1137V1140.5M1365.88 1137V1140.5M1435.6 1137V1140.5" stroke="#1a1a1a" stroke-width="1.2" fill="none"/>
<text class="tk" transform="translate(1098.4 1142.6) scale(0.97 1)" text-anchor="end">0</text>
<text class="tk" transform="translate(1098.4 1068.02) scale(0.97 1)" text-anchor="end">500</text>
<text class="tk" transform="translate(1098.4 993.45) scale(0.97 1)" text-anchor="end">1000</text>
<text class="tk" transform="translate(1098.4 918.88) scale(0.97 1)" text-anchor="end">1500</text>
<text class="tk" transform="translate(1098.4 844.3) scale(0.97 1)" text-anchor="end">2000</text>
<text class="tk" transform="translate(1494.2 1142.6) scale(0.97 1)">0</text>
<text class="tk" transform="translate(1494.2 1061.17) scale(0.97 1)">300</text>
<text class="tk" transform="translate(1494.2 979.75) scale(0.97 1)">600</text>
<text class="tk" transform="translate(1494.2 898.32) scale(0.97 1)">900</text>
<text class="tk" transform="translate(1494.2 816.9) scale(0.97 1)">1200</text>
<text class="tk" transform="translate(1156.7 1154.8) scale(0.97 1)" text-anchor="middle">2022</text>
<text class="tk" transform="translate(1226.42 1154.8) scale(0.97 1)" text-anchor="middle">2024</text>
<text class="tk" transform="translate(1296.15 1154.8) scale(0.97 1)" text-anchor="middle">2026</text>
<text class="tk" transform="translate(1365.88 1154.8) scale(0.97 1)" text-anchor="middle">2028</text>
<text class="tk" transform="translate(1435.6 1154.8) scale(0.97 1)" text-anchor="middle">2030</text>
<text class="xl" transform="translate(1267.1 1176.8) scale(0.975 1)" text-anchor="middle">year</text>
<text class="yl" text-anchor="middle" transform="translate(1059.7 975.8) rotate(-90) scale(0.978 1)">Global AS-DALYs</text>
</g>
</svg></body></html>
